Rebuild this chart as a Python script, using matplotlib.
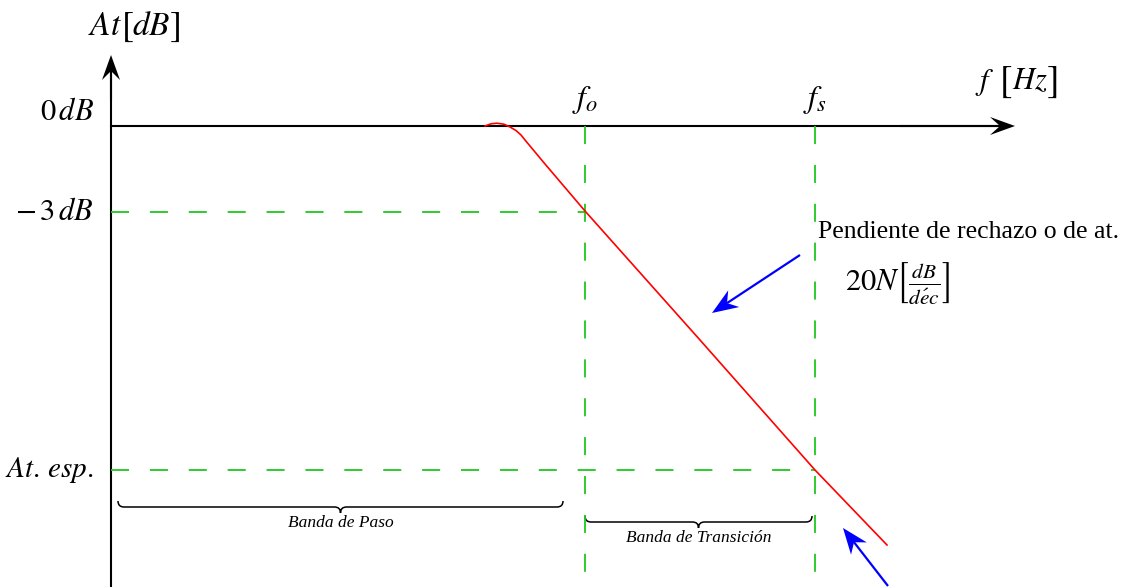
import numpy as np
import matplotlib.pyplot as plt
from matplotlib.path import Path
from matplotlib.patches import PathPatch

plt.rcParams["mathtext.fontset"] = "stix"
plt.rcParams["font.family"] = ["Liberation Serif", "DejaVu Serif"]
plt.rcParams["lines.scale_dashes"] = False

W, H = 1123, 587
FIG_DPI = 100.0

# esquema (unidades = pixeles del dibujo original)
origin_x = 111
level_names = ["$0\\,dB$", "$-\\,3\\,dB$", "$At.\\,esp.$"]
level_y = [126, 212, 470]
level_size = [22, 22, 21]
freq_names = ["$f_o$", "$f_s$"]
freq_x = [585, 815]

# respuesta en atenuacion (curva roja)
resp_x = [485, 491, 497, 504, 510, 516, 521, 525, 545, 585, 700, 815, 887]
resp_y = [126, 123.8, 123.2, 124.2, 127, 130.5, 135, 140, 164, 211, 340, 470, 545]

# llaves de banda
band_x0 = [118, 585]
band_x1 = [563, 812]
band_y = [507, 522]
band_text = ["Banda de Paso", "Banda de Transición"]

GREEN = "#1ec81e"


def stealth(ax, tail, tip, length, half_w, notch, color, lw):
    tail = np.array(tail, float)
    tip = np.array(tip, float)
    d = (tip - tail) / np.linalg.norm(tip - tail)
    n = np.array([-d[1], d[0]])
    back = tip - d * length
    nb = tip - d * (length - notch)
    ax.plot([tail[0], nb[0]], [tail[1], nb[1]], color=color, lw=lw, solid_capstyle="butt")
    pts = np.array([tip, back + n * half_w, nb, back - n * half_w])
    ax.fill(pts[:, 0], pts[:, 1], color=color, lw=0)


def brace(ax, x0, x1, y, depth=6):
    xm = (x0 + x1) / 2.0
    verts = [(x0, y - depth), (x0, y), (x0 + depth, y),
             (xm - depth, y), (xm, y), (xm, y + depth),
             (xm, y + depth), (xm, y), (xm + depth, y),
             (x1 - depth, y), (x1, y), (x1, y - depth)]
    codes = [Path.MOVETO, Path.CURVE3, Path.CURVE3,
             Path.LINETO, Path.CURVE3, Path.CURVE3,
             Path.MOVETO, Path.CURVE3, Path.CURVE3,
             Path.LINETO, Path.CURVE3, Path.CURVE3]
    ax.add_patch(PathPatch(Path(verts, codes), fill=False, color="black", lw=1.1))


def chain(ax, x, y, parts):
    # textos seguidos: (texto, tamano, separacion)
    r = fig.canvas.get_renderer()
    for s, size, gap in parts:
        t = ax.text(x + gap, y, s, fontsize=size, ha="left", va="center")
        x = t.get_window_extent(r).x1


fig = plt.figure(figsize=(W / FIG_DPI, H / FIG_DPI), dpi=FIG_DPI)
ax = fig.add_axes([0, 0, 1, 1])
ax.set_xlim(0, W)
ax.set_ylim(H, 0)
ax.axis("off")

# ejes
ax.plot([origin_x, origin_x], [H, 70], color="black", lw=1.5)
stealth(ax, (origin_x, 100), (origin_x, 55), 25, 9, 9, "black", 1.5)
ax.plot([origin_x, 1000], [level_y[0], level_y[0]], color="black", lw=1.5)
stealth(ax, (900, level_y[0]), (1015, level_y[0]), 25, 9, 10, "black", 1.5)

# lineas de referencia
ax.plot([origin_x, freq_x[0]], [level_y[1], level_y[1]], color=GREEN, lw=1.3, dashes=(13, 15))
ax.plot([origin_x, freq_x[1]], [level_y[2], level_y[2]], color=GREEN, lw=1.3, dashes=(13, 15))
for fx in freq_x:
    ax.plot([fx, fx], [level_y[0], H], color=GREEN, lw=1.3, dashes=(13, 15))

# curva
ax.plot(resp_x, resp_y, color="red", lw=1.2)

# flechas azules
stealth(ax, (800, 255), (712, 313), 26, 10, 8, "blue", 1.6)
stealth(ax, (888, 586), (843, 528), 26, 10, 8, "blue", 1.6)

# textos
chain(ax, 88, 27, [("$At$", 24, 0), ("$\\mathrm{[}$", 26, -1), ("$dB$", 24, -2), ("$\\mathrm{]}$", 26, -1)])
for name, y, size in zip(level_names, level_y, level_size):
    ax.text(94, y - 14 if y == level_y[0] else y, name, fontsize=size, ha="right", va="center")
for name, x in zip(freq_names, freq_x):
    ax.text(x, 100, name, fontsize=23, ha="center", va="center")
chain(ax, 975, 82, [("$f$", 22, 0), ("$\\mathrm{[}$", 27, 5), ("$Hz$", 22, -1), ("$\\mathrm{]}$", 27, -1)])
ax.text(818, 232, "Pendiente de rechazo o de at.", fontsize=18.5, ha="left", va="center")
ax.text(845, 283, "$20N\\left[\\frac{dB}{d\\acute{e}c}\\right]$", fontsize=22, ha="left", va="center")

for x0, x1, y, t in zip(band_x0, band_x1, band_y, band_text):
    brace(ax, x0, x1, y)
    ax.text((x0 + x1) / 2.0, y + 16, t, fontsize=12.5, style="italic", ha="center", va="center")

plt.savefig("out.png", dpi=FIG_DPI)
